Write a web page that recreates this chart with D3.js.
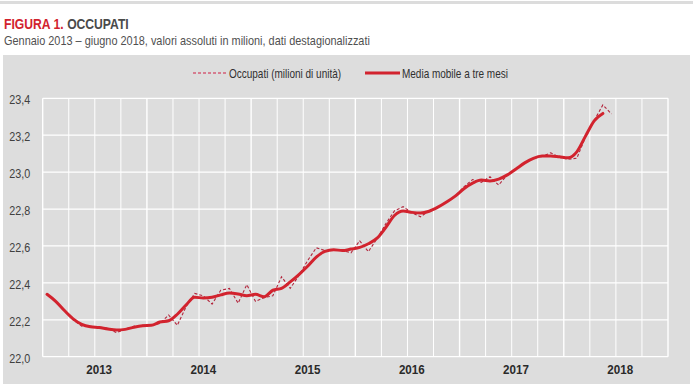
<!DOCTYPE html>
<html>
<head>
<meta charset="utf-8">
<script src="https://cdn.jsdelivr.net/npm/d3@7"></script>
<style>
  html, body { margin: 0; padding: 0; background: #fff; }
  svg { display: block; }
  text { font-family: "Liberation Sans Narrow", "Arial Narrow", "Liberation Sans", Arial, sans-serif; }
</style>
</head>
<body>
<svg id="chart" width="693" height="384"></svg>
<script>
// ---- DATA ----
const startYear = 2013;
const axisMonths = 72; // Jan 2013 – Dec 2018 slots on the axis
const yearLabels = ["2013", "2014", "2015", "2016", "2017", "2018"];
const yTicks = [22.0, 22.2, 22.4, 22.6, 22.8, 23.0, 23.2, 23.4];

// Occupati (milioni di unità), Jan 2013 – Jun 2018
const occupati = [
  22.338, 22.300, 22.250, 22.200, 22.165, 22.165, 22.160, 22.155, 22.130, 22.150, 22.165, 22.170,
  22.170, 22.180, 22.226, 22.170, 22.270, 22.343, 22.330, 22.285, 22.360, 22.370, 22.290, 22.390,
  22.300, 22.320, 22.330, 22.433, 22.370, 22.440, 22.520, 22.590, 22.575, 22.575, 22.575, 22.563,
  22.628, 22.569, 22.640, 22.720, 22.790, 22.813, 22.780, 22.758, 22.790, 22.810, 22.840, 22.870,
  22.920, 22.960, 22.945, 22.975, 22.930, 22.985, 23.020, 23.050, 23.075, 23.085, 23.105, 23.080,
  23.070, 23.075, 23.190, 23.280, 23.364, 23.315
];
// Media mobile a tre mesi, Jan 2013 – May 2018
const mediaMobile = [
  22.338, 22.300, 22.250, 22.205, 22.175, 22.162, 22.158, 22.150, 22.145, 22.148, 22.160, 22.168,
  22.170, 22.188, 22.195, 22.230, 22.280, 22.322, 22.318, 22.322, 22.335, 22.345, 22.340, 22.330,
  22.338, 22.325, 22.360, 22.370, 22.405, 22.445, 22.490, 22.540, 22.570, 22.580, 22.575, 22.583,
  22.592, 22.612, 22.642, 22.700, 22.765, 22.790, 22.782, 22.778, 22.788, 22.810, 22.838, 22.870,
  22.910, 22.940, 22.957, 22.952, 22.962, 22.985, 23.017, 23.050, 23.075, 23.087, 23.088, 23.083,
  23.078, 23.110, 23.195, 23.278, 23.318
];
const legendLabels = ["Occupati (milioni di unità)", "Media mobile a tre mesi"];
const titleRed = "FIGURA 1.";
const titleDark = "OCCUPATI";
const subtitle = "Gennaio 2013 – giugno 2018, valori assoluti in milioni, dati destagionalizzati";

// ---- DRAW ----
const svg = d3.select("#chart");
const W = 693, H = 384;
const red = "#d2232e";
const dashRed = "#b3263d";

// narrow-font emulation: compress horizontally around the text's anchor point
function condense(sel, f) {
  sel.each(function () {
    const s = d3.select(this);
    const x0 = +s.attr("x") || 0;
    const y0 = +s.attr("y") || 0;
    s.attr("x", 0).attr("y", 0)
     .attr("transform", `translate(${x0},${y0}) scale(${f},1)`);
  });
}

// top rule
svg.append("rect").attr("x", 0).attr("y", 1).attr("width", W).attr("height", 3).attr("fill", "#dcdcdc");

// title (two separate texts)
const tf = 0.81;
const t1 = svg.append("text").attr("x", 4).attr("y", 28.5)
  .attr("font-size", 15).attr("font-weight", "bold").attr("fill", "#d2232e").text(titleRed);
const t1w = t1.node().getComputedTextLength() * tf;
condense(t1, tf);
const t2 = svg.append("text").attr("x", 4 + t1w + 3.5).attr("y", 28.5)
  .attr("font-size", 15).attr("font-weight", "bold").attr("fill", "#4a4a4a").text(titleDark);
condense(t2, tf);

const st = svg.append("text").attr("x", 4).attr("y", 45)
  .attr("font-size", 13).attr("fill", "#505050").text(subtitle);
condense(st, 0.84);

// panel
svg.append("rect").attr("x", 3).attr("y", 55).attr("width", 687).attr("height", H - 55).attr("fill", "#dddddd");

const x = d3.scaleBand().domain(d3.range(axisMonths)).range([42.7, 668]).padding(0);
const bw = x.bandwidth();
const cx = i => x(i) + bw / 2;
const y = d3.scaleLinear().domain([22.0, 23.4]).range([356.7, 98.3]);

// gridlines
const g = svg.append("g");
g.selectAll("line.h").data(yTicks).join("line")
  .attr("x1", 42.7).attr("x2", 668).attr("y1", d => y(d)).attr("y2", d => y(d))
  .attr("stroke", "#ffffff").attr("stroke-width", 1.2);
const vIdx = d3.range(0, axisMonths + 1, 3);
g.selectAll("line.v").data(vIdx).join("line")
  .attr("x1", d => d === axisMonths ? 668 : x(d)).attr("x2", d => d === axisMonths ? 668 : x(d))
  .attr("y1", y(23.4)).attr("y2", y(22.0))
  .attr("stroke", "#ffffff").attr("stroke-width", d => d % 12 === 0 ? 1.4 : 1);

// y axis labels
const yAxis = d3.axisLeft(y).tickValues(yTicks).tickSize(0).tickPadding(12.5)
  .tickFormat(d => d3.format(".1f")(d).replace(".", ","));
const ya = svg.append("g").attr("transform", "translate(42.7,1.5)").call(yAxis);
ya.select(".domain").remove();
ya.selectAll("text").attr("font-size", 13).attr("fill", "#404040")
  .style("font-family", '"Liberation Sans Narrow", "Arial Narrow", "Liberation Sans", Arial, sans-serif');
condense(ya.selectAll("text"), 0.83);

// x year labels
const xl = svg.append("g").selectAll("text").data(yearLabels).join("text")
  .attr("x", (d, k) => cx(k * 12 + 6))
  .attr("y", 374)
  .attr("text-anchor", "middle")
  .attr("font-size", 13.5).attr("font-weight", "bold").attr("fill", "#2a2a2a")
  .text(d => d);
condense(xl, 0.86);

// lines
const lineRaw = d3.line().x((d, i) => cx(i)).y(d => y(d));
const lineMA = d3.line().x((d, i) => cx(i)).y(d => y(d)).curve(d3.curveMonotoneX);

svg.append("path").datum(occupati).attr("d", lineRaw)
  .attr("fill", "none").attr("stroke", dashRed).attr("stroke-width", 1.1)
  .attr("stroke-dasharray", "3,2");
svg.append("path").datum(mediaMobile).attr("d", lineMA)
  .attr("fill", "none").attr("stroke", red).attr("stroke-width", 3)
  .attr("stroke-linejoin", "round").attr("stroke-linecap", "round");

// legend
const lg = svg.append("g");
lg.append("line").attr("x1", 193).attr("x2", 227).attr("y1", 73).attr("y2", 73)
  .attr("stroke", "#d01f45").attr("stroke-width", 1.1).attr("stroke-dasharray", "3,2");
const l1 = lg.append("text").attr("x", 229).attr("y", 77.5).attr("font-size", 12.5).attr("fill", "#303030").text(legendLabels[0]);
lg.append("line").attr("x1", 365).attr("x2", 400).attr("y1", 73).attr("y2", 73)
  .attr("stroke", red).attr("stroke-width", 3);
const l2 = lg.append("text").attr("x", 402).attr("y", 77.5).attr("font-size", 12.5).attr("fill", "#303030").text(legendLabels[1]);
condense(l1, 0.8);
condense(l2, 0.8);
</script>
</body>
</html>
